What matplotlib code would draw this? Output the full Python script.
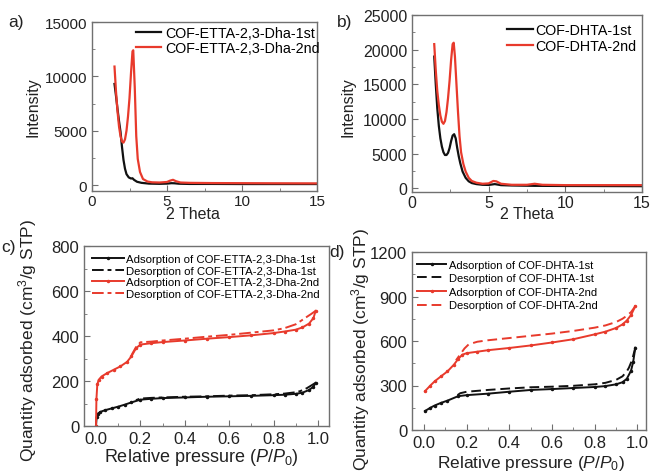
import matplotlib
matplotlib.use("Agg")
import matplotlib.pyplot as plt
from matplotlib.ticker import AutoMinorLocator, MultipleLocator

plt.rcParams["font.family"] = ["Liberation Sans", "DejaVu Sans"]
plt.rcParams["mathtext.fontset"] = "custom"
plt.rcParams["mathtext.rm"] = "Liberation Sans"
plt.rcParams["mathtext.it"] = "Liberation Sans:italic"

RED = "#e83a2c"
BLACK = "#111111"
FRAME = "#707070"
TEXT = "#222222"

# ---- a) XRD of COF-ETTA-2,3-Dha ----
theta_a1 = [1.5, 1.6, 1.7, 1.8, 1.9, 2.0, 2.1, 2.2, 2.3, 2.45, 2.6, 2.7, 2.8, 3.0, 3.3, 3.8, 4.5, 5.0, 5.3, 5.5, 5.8, 6.5, 8, 10, 12, 15]
int_a1 = [9300, 8200, 7000, 5900, 4900, 3500, 2300, 1500, 1000, 700, 600, 620, 480, 300, 200, 130, 110, 130, 170, 160, 120, 100, 100, 90, 90, 90]
theta_a2 = [1.5, 1.6, 1.7, 1.8, 1.9, 2.0, 2.1, 2.2, 2.3, 2.4, 2.5, 2.6, 2.7, 2.75, 2.85, 2.95, 3.05, 3.2, 3.4, 3.7, 4.0, 4.5, 5.0, 5.2, 5.4, 5.6, 5.9, 6.5, 8, 10, 12, 15]
int_a2 = [10900, 8600, 6800, 5400, 4500, 4000, 3900, 4200, 5000, 6300, 8000, 10300, 12300, 12400, 9000, 4500, 2400, 1200, 550, 320, 250, 230, 280, 400, 480, 350, 230, 200, 180, 170, 160, 150]

# ---- b) XRD of COF-DHTA ----
theta_b1 = [1.45, 1.55, 1.65, 1.75, 1.85, 1.95, 2.05, 2.15, 2.25, 2.35, 2.45, 2.55, 2.65, 2.75, 2.85, 2.95, 3.05, 3.15, 3.3, 3.5, 3.7, 3.9, 4.2, 4.6, 5.0, 5.4, 5.8, 6.5, 8, 10, 12, 15]
int_b1 = [19000, 15000, 11500, 9000, 7200, 6000, 5200, 4800, 4800, 5100, 5800, 6800, 7600, 7800, 7200, 5800, 4600, 3600, 2400, 1500, 1000, 750, 600, 500, 480, 600, 450, 400, 350, 330, 320, 300]
theta_b2 = [1.45, 1.55, 1.65, 1.75, 1.85, 1.95, 2.05, 2.15, 2.25, 2.35, 2.45, 2.55, 2.65, 2.72, 2.8, 2.9, 3.0, 3.1, 3.2, 3.35, 3.5, 3.7, 3.9, 4.2, 4.6, 5.0, 5.3, 5.5, 5.8, 6.5, 7.5, 8.0, 8.5, 10, 12, 15]
int_b2 = [20800, 17000, 14000, 12000, 10500, 9600, 9300, 9700, 11000, 13000, 15500, 18500, 20800, 21000, 19000, 15000, 11000, 7500, 5200, 3500, 2400, 1500, 1050, 800, 650, 700, 1050, 1000, 650, 500, 500, 650, 500, 450, 450, 450]

# ---- c) N2 isotherms of COF-ETTA-2,3-Dha ----
p_c_ads1 = [0.0, 0.003, 0.008, 0.02, 0.04, 0.07, 0.1, 0.13, 0.16, 0.2, 0.25, 0.3, 0.4, 0.5, 0.6, 0.7, 0.8, 0.85, 0.9, 0.93, 0.96, 0.98, 0.99]
v_c_ads1 = [0, 40, 55, 63, 70, 78, 86, 95, 105, 117, 121, 124, 127, 130, 132, 134, 137, 139, 143, 148, 160, 175, 192]
p_c_des1 = [0.99, 0.97, 0.95, 0.92, 0.9, 0.85, 0.8, 0.7, 0.6, 0.5, 0.4, 0.3, 0.25, 0.2, 0.18]
v_c_des1 = [192, 180, 168, 155, 150, 144, 141, 137, 135, 132, 130, 127, 125, 122, 115]
p_c_ads2 = [0.0, 0.002, 0.006, 0.012, 0.025, 0.05, 0.08, 0.11, 0.14, 0.16, 0.18, 0.2, 0.25, 0.3, 0.4, 0.5, 0.6, 0.7, 0.8, 0.85, 0.9, 0.93, 0.96, 0.98, 0.99]
v_c_ads2 = [0, 120, 185, 205, 220, 235, 250, 265, 285, 310, 345, 362, 368, 373, 380, 388, 395, 403, 413, 420, 428, 438, 455, 480, 512]
p_c_des2 = [0.99, 0.97, 0.95, 0.92, 0.9, 0.85, 0.8, 0.7, 0.6, 0.5, 0.4, 0.3, 0.25, 0.2, 0.18, 0.16]
v_c_des2 = [512, 498, 485, 465, 452, 435, 425, 415, 405, 397, 388, 380, 375, 372, 350, 315]

# ---- d) N2 isotherms of COF-DHTA ----
p_d_ads1 = [0.005, 0.03, 0.05, 0.08, 0.11, 0.16, 0.2, 0.3, 0.4, 0.5, 0.6, 0.7, 0.8, 0.85, 0.9, 0.93, 0.95, 0.97, 0.98, 0.99]
v_d_ads1 = [128, 150, 165, 183, 198, 228, 235, 245, 258, 270, 276, 283, 290, 296, 308, 322, 345, 400, 460, 555]
p_d_des1 = [0.99, 0.98, 0.97, 0.96, 0.95, 0.93, 0.9, 0.85, 0.8, 0.7, 0.6, 0.5, 0.4, 0.3, 0.2, 0.17, 0.15]
v_d_des1 = [555, 500, 455, 420, 395, 362, 338, 318, 308, 298, 292, 288, 280, 270, 258, 248, 228]
p_d_ads2 = [0.005, 0.03, 0.05, 0.08, 0.11, 0.14, 0.16, 0.18, 0.2, 0.25, 0.3, 0.4, 0.5, 0.6, 0.7, 0.8, 0.85, 0.9, 0.93, 0.95, 0.97, 0.99]
v_d_ads2 = [262, 300, 328, 362, 395, 440, 478, 508, 518, 528, 538, 553, 570, 590, 612, 645, 663, 688, 712, 738, 775, 835]
p_d_des2 = [0.99, 0.97, 0.95, 0.93, 0.9, 0.85, 0.8, 0.7, 0.6, 0.5, 0.4, 0.3, 0.25, 0.21, 0.19, 0.17, 0.15]
v_d_des2 = [835, 795, 770, 750, 728, 705, 690, 668, 650, 635, 620, 605, 595, 578, 550, 510, 470]

W, H = 653, 477


def px_axes(left, top, right, bottom):
    # axes box given in pixel coordinates of the figure
    return fig.add_axes([left / W, 1 - bottom / H, (right - left) / W, (bottom - top) / H])


def style(ax, tick_size, xpad=3.5):
    for sp in ax.spines.values():
        sp.set_color(FRAME)
        sp.set_linewidth(1.0)
    ax.tick_params(which="both", direction="in", colors=FRAME, labelcolor=TEXT,
                   labelsize=tick_size, top=False, right=False)
    ax.tick_params(which="major", length=4)
    ax.tick_params(which="minor", length=2)
    ax.tick_params(axis="x", pad=xpad)
    ax.xaxis.set_minor_locator(AutoMinorLocator(2))
    ax.yaxis.set_minor_locator(AutoMinorLocator(2))


def place_labels(ax, xpos, ypos):
    ax.xaxis.set_label_coords(*xpos)
    ax.yaxis.set_label_coords(*ypos)
    ax.xaxis.label.set_va("center")
    ax.yaxis.label.set_va("center")


fig = plt.figure(figsize=(W / 100, H / 100), dpi=100)

# a)
ax_a = px_axes(92, 23, 317, 192)
ax_a.plot(theta_a1, int_a1, color=BLACK, lw=1.6, label="COF-ETTA-2,3-Dha-1st")
ax_a.plot(theta_a2, int_a2, color=RED, lw=1.6, label="COF-ETTA-2,3-Dha-2nd")
ax_a.set_xlim(0, 15)
ax_a.set_ylim(-550, 15000)
ax_a.xaxis.set_major_locator(MultipleLocator(5))
ax_a.yaxis.set_major_locator(MultipleLocator(5000))
style(ax_a, 11, xpad=2)
ax_a.set_xlabel("2 Theta", fontsize=11.5, color=TEXT)
ax_a.set_ylabel("Intensity", fontsize=11.5, color=TEXT)
place_labels(ax_a, (0.447, -0.135), (-0.262, 0.5))
ax_a.legend(loc="upper right", bbox_to_anchor=(1.05, 1.03), frameon=False, fontsize=10.3,
            handlelength=1.7, handletextpad=0.3, labelspacing=0.12, borderaxespad=0.2)

# b)
ax_b = px_axes(412, 16, 642, 193)
ax_b.plot(theta_b1, int_b1, color=BLACK, lw=1.6, label="COF-DHTA-1st")
ax_b.plot(theta_b2, int_b2, color=RED, lw=1.6, label="COF-DHTA-2nd")
ax_b.set_xlim(0, 15)
ax_b.set_ylim(-540, 25000)
ax_b.xaxis.set_major_locator(MultipleLocator(5))
ax_b.yaxis.set_major_locator(MultipleLocator(5000))
style(ax_b, 11.5, xpad=2)
ax_b.set_xlabel("2 Theta", fontsize=11.5, color=TEXT)
ax_b.set_ylabel("Intensity", fontsize=11.5, color=TEXT)
place_labels(ax_b, (0.50, -0.12), (-0.277, 0.486))
ax_b.legend(loc="upper right", bbox_to_anchor=(1.02, 1.01), frameon=False, fontsize=10.3,
            handlelength=1.8, handletextpad=0.2, labelspacing=0.1, borderaxespad=0.3)

# c)
ax_c = px_axes(84, 247, 329, 427)
ax_c.plot(p_c_ads1, v_c_ads1, color=BLACK, lw=1.4, marker=".", ms=3,
          label="Adsorption of COF-ETTA-2,3-Dha-1st")
ax_c.plot(p_c_des1, v_c_des1, color=BLACK, lw=1.4, ls=(0, (6, 2, 2, 2)),
          label="Desorption of COF-ETTA-2,3-Dha-1st")
ax_c.plot(p_c_ads2, v_c_ads2, color=RED, lw=1.4, marker=".", ms=3,
          label="Adsorption of COF-ETTA-2,3-Dha-2nd")
ax_c.plot(p_c_des2, v_c_des2, color=RED, lw=1.4, ls=(0, (6, 2, 2, 2)),
          label="Desorption of COF-ETTA-2,3-Dha-2nd")
ax_c.set_xlim(-0.054, 1.05)
ax_c.set_ylim(0, 800)
ax_c.xaxis.set_major_locator(MultipleLocator(0.2))
ax_c.yaxis.set_major_locator(MultipleLocator(200))
style(ax_c, 12)
ax_c.set_xlabel(r"Relative pressure ($\mathit{P/P}_0$)", fontsize=13, color=TEXT)
ax_c.set_ylabel("Quantity adsorbed (cm$^3$/g STP)", fontsize=12.5, color=TEXT)
place_labels(ax_c, (0.478, -0.172), (-0.232, 0.48))
ax_c.legend(loc="upper left", bbox_to_anchor=(0.0, 1.0), frameon=False, fontsize=8.2,
            handlelength=2.8, handletextpad=0.2, labelspacing=0.15, borderaxespad=0.3)

# d)
ax_d = px_axes(412, 253, 646, 431)
ax_d.plot(p_d_ads1, v_d_ads1, color=BLACK, lw=1.4, marker=".", ms=3,
          label="Adsorption of COF-DHTA-1st")
ax_d.plot(p_d_des1, v_d_des1, color=BLACK, lw=1.4, ls=(0, (5, 2.5)),
          label="Desorption of COF-DHTA-1st")
ax_d.plot(p_d_ads2, v_d_ads2, color=RED, lw=1.4, marker=".", ms=3,
          label="Adsorption of COF-DHTA-2nd")
ax_d.plot(p_d_des2, v_d_des2, color=RED, lw=1.4, ls=(0, (5, 2.5)),
          label="Desorption of COF-DHTA-2nd")
ax_d.set_xlim(-0.056, 1.04)
ax_d.set_ylim(0, 1200)
ax_d.xaxis.set_major_locator(MultipleLocator(0.2))
ax_d.yaxis.set_major_locator(MultipleLocator(300))
style(ax_d, 12)
ax_d.set_xlabel(r"Relative pressure ($\mathit{P/P}_0$)", fontsize=12.5, color=TEXT)
ax_d.set_ylabel("Quantity adsorbed (cm$^3$/g STP)", fontsize=12.5, color=TEXT)
place_labels(ax_d, (0.51, -0.18), (-0.222, 0.46))
ax_d.legend(loc="upper left", bbox_to_anchor=(-0.01, 1.0), frameon=False, fontsize=8,
            handlelength=2.6, handletextpad=0.2, labelspacing=0.32, borderaxespad=0.3)

# panel letters
for lab, x, y in [("a)", 16, 23), ("b)", 345, 22), ("c)", 8, 248), ("d)", 337, 252)]:
    fig.text(x / W, 1 - y / H, lab, fontsize=12.5, color=TEXT, ha="center", va="center")

fig.savefig("out.png", dpi=100)
